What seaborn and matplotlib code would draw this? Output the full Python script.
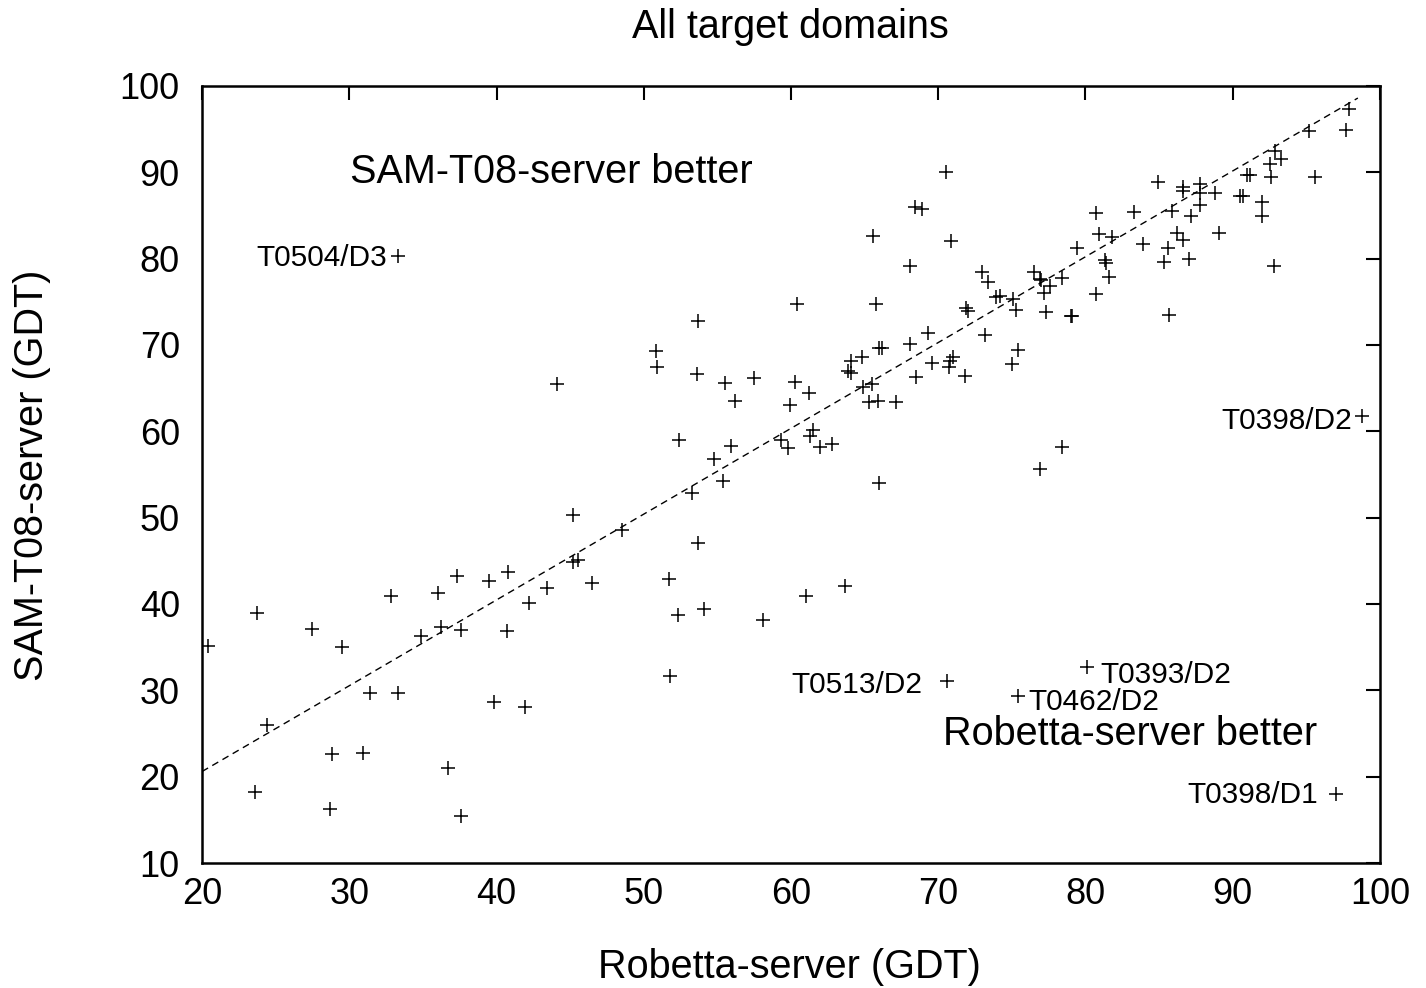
import matplotlib
matplotlib.use("Agg")
import matplotlib.pyplot as plt
import seaborn as sns
import pandas as pd

robetta = [
    20.4, 23.7, 27.5, 29.5, 24.4, 23.6, 28.8, 28.7, 30.9, 31.4, 33.3, 32.8, 34.9, 36.0, 36.2,
    37.3, 37.6, 36.7, 37.6, 39.5, 40.8, 40.7, 39.8, 41.9, 42.2, 43.4, 45.2, 45.5, 46.5,
    44.1, 45.2, 48.5,
    68.1, 73.0, 73.4, 76.5, 76.9, 77.0, 60.4, 65.8, 53.7, 50.8, 50.9, 53.6, 55.5, 57.5, 56.2,
    60.3, 61.2, 59.9, 64.1, 64.8, 63.9, 64.1, 66.0, 66.2, 68.1, 69.3, 71.0, 70.8, 70.7, 69.6,
    71.8, 68.5, 73.2, 75.4, 75.0, 71.9, 72.0, 73.9, 74.2, 75.1, 75.3, 65.5, 64.9, 65.3, 65.9,
    67.1, 52.4, 54.8, 55.9, 55.4, 53.3, 53.7, 59.3, 59.8, 61.5, 61.3, 62.0, 62.8, 66.0, 76.9,
    51.7, 52.3, 54.1, 58.1, 61.0, 63.7, 51.8, 70.6, 75.4,
    98.8, 78.4, 80.1, 97.0,
    97.9, 97.7, 95.2, 92.9, 93.3, 92.5, 92.6, 95.6, 91.0, 91.2, 90.5, 90.7, 92.0, 92.0, 92.8,
    84.9, 86.6, 86.6, 87.8, 87.8, 88.8, 87.8, 87.2, 85.9, 86.2, 86.6, 85.6, 85.3, 87.0, 89.1,
    85.7, 83.3, 80.7, 80.9, 81.8, 83.9, 79.4, 81.3, 81.4, 81.6, 80.7, 78.4, 77.6, 77.2, 77.3,
    79.0, 79.1,
    33.3, 70.5, 70.9, 68.4, 68.9, 65.6,
]
samt08 = [
    35.1, 39.0, 37.1, 35.0, 26.0, 18.2, 22.6, 16.3, 22.8, 29.7, 29.7, 40.9, 36.3, 41.3, 37.3,
    43.2, 37.0, 21.0, 15.4, 42.7, 43.7, 36.9, 28.7, 28.1, 40.1, 41.8, 44.9, 45.1, 42.4,
    65.5, 50.3, 48.6,
    79.1, 78.5, 77.3, 78.5, 77.6, 77.5, 74.7, 74.7, 72.8, 69.3, 67.4, 66.6, 65.6, 66.2, 63.5,
    65.7, 64.4, 63.1, 68.1, 68.6, 67.0, 66.8, 69.7, 69.7, 70.1, 71.4, 68.6, 68.1, 67.4, 67.9,
    66.4, 66.3, 71.1, 69.4, 67.8, 74.3, 73.9, 75.6, 75.7, 75.3, 74.1, 65.5, 65.1, 63.4, 63.5,
    63.4, 59.0, 56.8, 58.3, 54.2, 52.8, 47.1, 59.0, 58.1, 60.1, 59.4, 58.2, 58.5, 54.0, 55.6,
    42.9, 38.7, 39.4, 38.1, 40.9, 42.1, 31.7, 31.1, 29.4,
    61.8, 58.2, 32.7, 18.0,
    97.3, 94.9, 94.8, 92.5, 91.5, 91.0, 89.5, 89.4, 89.7, 89.7, 87.3, 87.3, 86.6, 84.9, 79.2,
    88.9, 88.3, 87.8, 88.7, 87.6, 87.6, 86.2, 84.9, 85.5, 83.0, 82.2, 81.2, 79.6, 80.0, 83.0,
    73.5, 85.4, 85.3, 82.9, 82.5, 81.7, 81.2, 79.8, 79.5, 77.9, 75.9, 77.7, 76.8, 76.0, 73.8,
    73.4, 73.4,
    80.3, 90.0, 82.0, 86.0, 85.8, 82.6,
]

fit_x = [20.0, 98.5]
fit_y = [20.6, 98.6]

labels = ["T0504/D3", "T0398/D2", "T0513/D2", "T0393/D2", "T0462/D2", "T0398/D1"]

df = pd.DataFrame({"Robetta": robetta, "SAM": samt08})

sns.set_theme(style="white")
plt.rcParams["font.family"] = ["Liberation Sans", "DejaVu Sans"]
plt.rcParams["text.color"] = "black"
plt.rcParams["axes.labelcolor"] = "black"
plt.rcParams["xtick.color"] = "black"
plt.rcParams["ytick.color"] = "black"

fig = plt.figure(figsize=(14.26, 9.88), dpi=100)
ax = fig.add_axes([0.1417, 0.1265, 0.8260, 0.7865])

ax.plot(fit_x, fit_y, color="black", linewidth=1.0, linestyle=(0, (5, 3.5)))
sns.scatterplot(data=df, x="Robetta", y="SAM", marker="+", s=110, color="black",
                linewidth=1.1, ax=ax, legend=False)

ax.set_xlim(20, 100)
ax.set_ylim(10, 100)
ax.set_xticks(range(20, 101, 10))
ax.set_yticks(range(10, 101, 10))
ax.tick_params(axis="both", which="major", direction="in", length=10, width=1.5,
               labelsize=26, top=True, right=True, colors="black", labelcolor="black")
ax.tick_params(axis="x", pad=10)
ax.tick_params(axis="y", pad=16)
for sp in ax.spines.values():
    sp.set_linewidth(1.8)
    sp.set_color("black")
ax.grid(False)

ax.set_xlabel("Robetta-server (GDT)", fontsize=28.5, color="black")
ax.set_ylabel("SAM-T08-server (GDT)", fontsize=28.5, color="black")
ax.xaxis.set_label_coords(0.499, -0.134)
ax.xaxis.label.set_va("center")
ax.yaxis.set_label_coords(-0.1443, 0.4994)
ax.yaxis.label.set_va("center")
fig.text(0.554, 0.9727, "All target domains", fontsize=28.5, ha="center", va="center",
         color="black")

ax.text(43.75, 90.0, "SAM-T08-server better", fontsize=28.5, ha="center", va="center",
        color="black")
ax.text(83.0, 24.9, "Robetta-server better", fontsize=28.5, ha="center", va="center",
        color="black")

fs = 21.5
ax.text(32.55, 80.1, labels[0], fontsize=fs, ha="right", va="center", color="black")
ax.text(98.1, 61.2, labels[1], fontsize=fs, ha="right", va="center", color="black")
ax.text(68.9, 30.6, labels[2], fontsize=fs, ha="right", va="center", color="black")
ax.text(80.98, 31.8, labels[3], fontsize=fs, ha="left", va="center", color="black")
ax.text(76.1, 28.7, labels[4], fontsize=fs, ha="left", va="center", color="black")
ax.text(95.8, 17.9, labels[5], fontsize=fs, ha="right", va="center", color="black")

fig.savefig("out.png", dpi=100, facecolor="white")
